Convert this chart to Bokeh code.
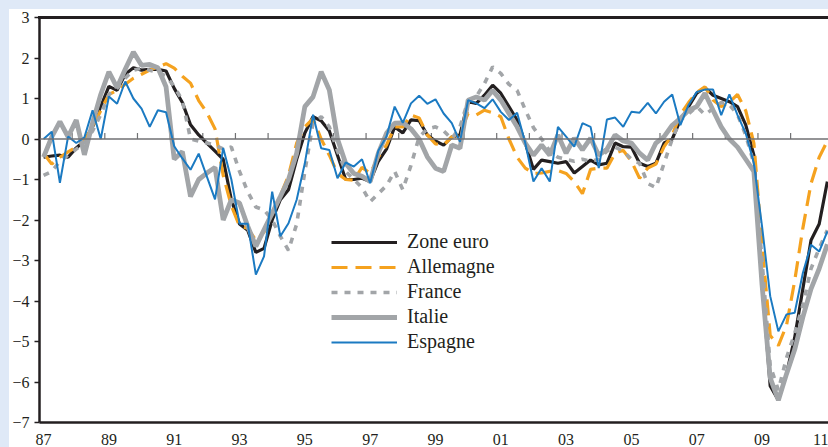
from bokeh.plotting import figure
from bokeh.layouts import column
from bokeh.models import Range1d, LinearAxis, FixedTicker, Span, Legend, LegendItem
from bokeh.embed import file_html
from bokeh.resources import INLINE

# Quarterly observations, 1987T1 .. 2011T1
quarters = [f"{y}T{q}" for y in range(1987, 2011) for q in (1, 2, 3, 4)] + ["2011T1"]

zone_euro = [
    -0.45, -0.42, -0.40, -0.45, -0.22, -0.05, 0.30, 0.80, 1.30, 1.20,
    1.60, 1.76, 1.70, 1.72, 1.72, 1.68, 1.25, 0.90, 0.35, 0.10,
    -0.10, -0.30, -0.50, -1.50, -2.10, -2.25, -2.80, -2.70, -2.00, -1.50,
    -1.25, -0.50, 0.15, 0.55, 0.45, 0.20, -0.40, -1.00, -1.00, -0.97,
    -1.05, -0.55, -0.25, 0.30, 0.15, 0.47, 0.45, 0.10, -0.05, -0.15,
    0.05, 0.10, 0.92, 0.88, 1.08, 1.33, 1.13, 0.80, 0.47, -0.10,
    -0.75, -0.52, -0.56, -0.60, -0.56, -0.84, -0.68, -0.52, -0.64, -0.60,
    -0.10, -0.19, -0.20, -0.60, -0.68, -0.60, -0.10, 0.00, 0.47, 0.80,
    1.13, 1.27, 1.08, 1.00, 0.92, 0.80, 0.35, -0.40, -3.50, -6.10,
    -6.45, -5.80, -4.90, -3.70, -2.50, -2.10, -1.05]

allemagne = [
    -0.35, -0.62, -0.45, -0.32, -0.20, -0.03, 0.30, 0.70, 1.10, 1.20,
    1.35, 1.50, 1.60, 1.70, 1.78, 1.86, 1.75, 1.55, 1.38, 0.95,
    0.65, 0.25, -0.90, -1.65, -2.15, -2.20, -2.50, -2.30, -1.85, -1.40,
    -0.90, -0.10, 0.30, 0.50, 0.00, -0.40, -0.85, -1.00, -1.02, -0.70,
    -0.85, -0.45, -0.15, 0.30, 0.30, 0.59, 0.52, 0.10, -0.12, -0.15,
    0.05, 0.15, 0.63, 0.59, 0.71, 0.65, 0.55, 0.00, -0.45, -0.72,
    -0.85, -0.84, -0.80, -0.78, -0.85, -1.05, -1.35, -0.75, -0.72, -0.72,
    -0.35, -0.28, -0.55, -0.97, -0.72, -0.62, -0.19, 0.10, 0.60, 0.90,
    1.15, 1.29, 0.96, 0.80, 0.90, 1.10, 0.70, -0.10, -2.60, -4.85,
    -5.10, -4.60, -3.50, -2.20, -1.10, -0.45, -0.05]

france = [
    -0.90, -0.80, -0.55, -0.40, -0.25, -0.10, 0.20, 0.60, 1.10, 1.25,
    1.50, 1.70, 1.75, 1.70, 1.65, 1.55, 1.30, 0.95, 0.00, -0.05,
    -0.10, -0.15, -0.25, -0.20, -0.80, -1.30, -1.68, -1.75, -2.00, -2.40,
    -2.75, -2.10, -0.80, 0.40, 0.55, 0.30, -0.30, -0.80, -1.00, -1.20,
    -1.55, -1.35, -1.15, -0.80, -1.25, -0.65, 0.05, 0.25, 0.30, 0.20,
    0.00, 0.30, 0.95, 1.05, 1.37, 1.78, 1.62, 1.35, 1.20, 0.72,
    0.28, 0.00, -0.30, -0.45, -0.50, -0.55, -0.50, -0.55, -0.50, -0.30,
    -0.20, -0.30, -0.50, -0.60, -1.10, -1.20, -0.60, 0.00, 0.47, 0.62,
    0.80, 0.60, 0.75, 0.90, 0.85, 0.60, 0.10, -0.60, -3.00, -5.60,
    -6.20, -5.40, -4.80, -4.10, -3.20, -2.70, -2.25]

italie = [
    -0.45, 0.05, 0.43, 0.05, 0.47, -0.39, 0.40, 1.10, 1.66, 1.27,
    1.72, 2.15, 1.82, 1.84, 1.76, 1.29, -0.50, -0.31, -1.42, -1.00,
    -0.84, -0.70, -2.00, -1.50, -1.58, -2.15, -2.65, -2.24, -1.83, -1.42,
    -1.00, -0.35, 0.80, 1.04, 1.66, 1.21, 0.00, -0.60, -0.85, -0.92,
    -1.05, -0.35, 0.14, 0.39, 0.40, 0.25, 0.00, -0.44, -0.72, -0.80,
    -0.15, -0.23, 0.96, 1.04, 0.96, 1.20, 0.96, 0.63, 0.30, -0.10,
    -0.40, -0.15, -0.40, 0.10, -0.35, 0.02, -0.27, 0.02, -0.40, -0.25,
    0.10, -0.05, -0.10, -0.35, -0.52, -0.10, 0.06, 0.34, 0.51, 0.71,
    0.80, 1.13, 0.71, 0.30, 0.00, -0.20, -0.50, -0.80, -3.60, -5.90,
    -6.45, -5.80, -5.20, -4.40, -3.70, -3.20, -2.60]

espagne = [
    0.00, 0.18, -1.08, 0.06, -0.10, 0.04, 0.71, 0.00, 1.05, 0.87,
    1.42, 1.00, 0.75, 0.30, 0.71, 0.66, -0.18, -0.48, -0.76, -0.36,
    -0.93, -1.49, -0.22, -1.00, -2.09, -2.09, -3.35, -2.90, -1.30, -2.40,
    -2.08, -1.50, -0.60, 0.60, -0.23, -0.27, -0.97, -0.58, -0.68, -0.50,
    -1.09, -0.29, 0.06, 0.80, 0.40, 0.88, 1.07, 0.87, 0.98, 0.63,
    0.39, -0.07, 0.96, 0.88, 0.76, 0.98, 0.67, 0.47, 0.65, -0.10,
    -1.05, -0.72, -1.05, 0.30, 0.06, -0.19, 0.39, 0.30, -0.72, 0.48,
    0.53, 0.30, 0.67, 0.65, 0.89, 0.63, 0.92, 1.10, 0.34, 0.84,
    1.16, 1.22, 1.22, 0.59, 1.10, 0.59, 0.14, -0.60, -2.16, -3.88,
    -4.75, -4.33, -4.29, -3.31, -2.61, -2.78, -2.28]

label_years = list(range(1987, 2012, 2))
year_labels = ["87", "89", "91", "93", "95", "97", "99", "01", "03", "05", "07", "09", "11"]
tick_years = list(range(1988, 2011))
y_ticks = list(range(-7, 4))

# quarter -> decimal year (middle of the quarter)
x = [int(s[:4]) + (int(s[-1]) - 0.5) / 4 for s in quarters]

FONT = "Liberation Serif"
INK = "#231f20"
X0, X1 = 1987, 2011.16

# transparent figure; the white panel and the top rule come from the wrapper's background
p = figure(width=819, height=438, output_backend="svg", toolbar_location=None,
           x_range=Range1d(X0, X1), y_range=Range1d(-7, 3),
           x_axis_location=None, y_axis_location=None,
           min_border_left=29, min_border_right=0, min_border_top=8, min_border_bottom=24,
           background_fill_alpha=0, border_fill_alpha=0)
p.outline_line_color = None
p.grid.visible = False

label_pos = [yr + 0.125 for yr in label_years]
xaxis = LinearAxis(ticker=FixedTicker(ticks=label_pos),
                   major_label_overrides={pos: lab for pos, lab in zip(label_pos, year_labels)})
xaxis.axis_line_width = 2.5
xaxis.axis_line_color = INK
xaxis.major_tick_line_color = None
xaxis.minor_tick_line_color = None
xaxis.major_label_text_font = FONT
xaxis.major_label_text_font_size = "16px"
xaxis.major_label_text_color = INK
xaxis.major_label_standoff = 5
p.add_layout(xaxis, "below")

yaxis = LinearAxis(ticker=FixedTicker(ticks=y_ticks))
yaxis.axis_line_width = 2.5
yaxis.axis_line_color = INK
yaxis.major_tick_out = 5
yaxis.major_tick_in = 0
yaxis.major_tick_line_width = 1.5
yaxis.major_tick_line_color = INK
yaxis.minor_tick_line_color = None
yaxis.major_label_text_font = FONT
yaxis.major_label_text_font_size = "16px"
yaxis.major_label_text_color = INK
yaxis.major_label_standoff = 5
p.add_layout(yaxis, "left")

p.add_layout(Span(location=0, dimension="width", line_color="#707173", line_width=1.5))
p.segment(x0=tick_years, y0=[0] * len(tick_years), x1=tick_years, y1=[0.15] * len(tick_years),
          line_color="#707173", line_width=1.2)

r_ze = p.line(x, zone_euro, line_color="#231f20", line_width=3.2)
r_de = p.line(x, allemagne, line_color="#f5a21f", line_width=3.2, line_dash="16 8")
r_fr = p.line(x, france, line_color="#a2a5a8", line_width=3.6, line_dash="6 7")
r_it = p.line(x, italie, line_color="#a2a5a8", line_width=4.8)
r_es = p.line(x, espagne, line_color="#1b7ac2", line_width=2.0)

legend = Legend(items=[LegendItem(label="Zone euro", renderers=[r_ze]),
                       LegendItem(label="Allemagne", renderers=[r_de]),
                       LegendItem(label="France", renderers=[r_fr]),
                       LegendItem(label="Italie", renderers=[r_it]),
                       LegendItem(label="Espagne", renderers=[r_es])],
                location=(292, 69), glyph_width=66, glyph_height=20, label_height=20,
                spacing=2, padding=0, margin=0, label_standoff=10,
                border_line_color=None, background_fill_alpha=0,
                label_text_font=FONT, label_text_font_size="20px", label_text_color=INK)
p.add_layout(legend)

page = column(p, styles={
    "background-color": "#dfe9f7",
    "background-image": f"linear-gradient({INK}, {INK}), linear-gradient(#ffffff, #ffffff)",
    "background-position": "38px 16px, 9px 9px",
    "background-size": "790px 3px, 819px 438px",
    "background-repeat": "no-repeat, no-repeat",
    "padding-left": "9px",
    "padding-top": "9px",
})

open("out.html", "w").write(file_html(page, INLINE))
